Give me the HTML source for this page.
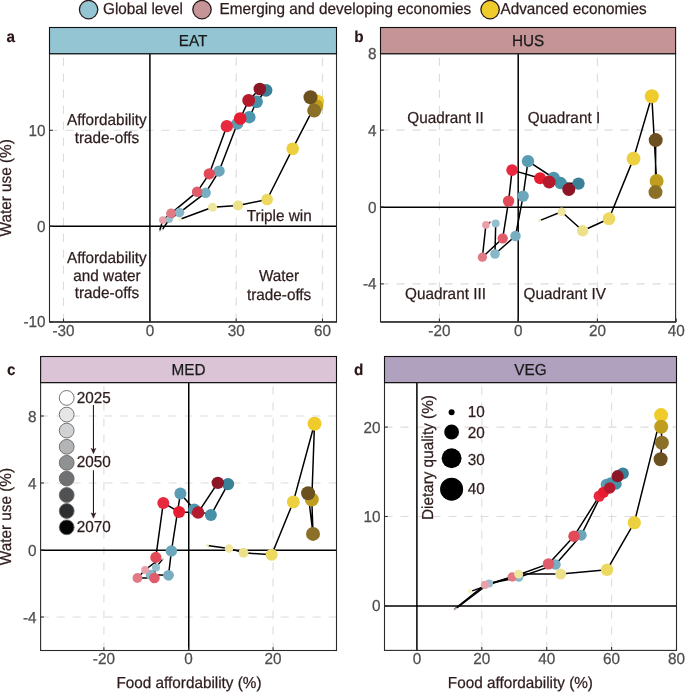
<!DOCTYPE html>
<html><head><meta charset="utf-8"><style>
html,body{margin:0;padding:0;background:#fff;}
svg{display:block;will-change:transform;}
text{font-family:"Liberation Sans", sans-serif;text-rendering:geometricPrecision;}
</style></head><body>
<svg width="685" height="692" viewBox="0 0 685 692" font-family='"Liberation Sans", sans-serif'>
<rect width="685" height="692" fill="#fff"/>
<clipPath id="clipa"><rect x="49.5" y="53.7" width="287.0" height="268.2"/></clipPath>
<line x1="63.5" y1="321.9" x2="63.5" y2="53.7" stroke="#dcdcdc" stroke-width="1.1" stroke-dasharray="8.1 7.9"/>
<line x1="236.2" y1="321.9" x2="236.2" y2="53.7" stroke="#dcdcdc" stroke-width="1.1" stroke-dasharray="8.1 7.9"/>
<line x1="322.5" y1="321.9" x2="322.5" y2="53.7" stroke="#dcdcdc" stroke-width="1.1" stroke-dasharray="8.1 7.9"/>
<line x1="49.5" y1="130.3" x2="336.5" y2="130.3" stroke="#dcdcdc" stroke-width="1.1" stroke-dasharray="8.1 7.9"/>
<line x1="149.9" y1="53.7" x2="149.9" y2="321.9" stroke="#000" stroke-width="1.5"/>
<line x1="49.5" y1="226.2" x2="336.5" y2="226.2" stroke="#000" stroke-width="1.5"/>
<clipPath id="clipb"><rect x="380.5" y="53.7" width="295.1" height="268.2"/></clipPath>
<line x1="439.4" y1="321.9" x2="439.4" y2="53.7" stroke="#dcdcdc" stroke-width="1.1" stroke-dasharray="8.1 7.9"/>
<line x1="597.4" y1="321.9" x2="597.4" y2="53.7" stroke="#dcdcdc" stroke-width="1.1" stroke-dasharray="8.1 7.9"/>
<line x1="380.5" y1="283.9" x2="675.6" y2="283.9" stroke="#dcdcdc" stroke-width="1.1" stroke-dasharray="8.1 7.9"/>
<line x1="380.5" y1="130.1" x2="675.6" y2="130.1" stroke="#dcdcdc" stroke-width="1.1" stroke-dasharray="8.1 7.9"/>
<line x1="518.2" y1="53.7" x2="518.2" y2="321.9" stroke="#000" stroke-width="1.5"/>
<line x1="380.5" y1="207.2" x2="675.6" y2="207.2" stroke="#000" stroke-width="1.5"/>
<clipPath id="clipc"><rect x="40.6" y="382.6" width="295.9" height="267.9"/></clipPath>
<line x1="103.9" y1="650.5" x2="103.9" y2="382.6" stroke="#dcdcdc" stroke-width="1.1" stroke-dasharray="8.1 7.9"/>
<line x1="273.1" y1="650.5" x2="273.1" y2="382.6" stroke="#dcdcdc" stroke-width="1.1" stroke-dasharray="8.1 7.9"/>
<line x1="40.6" y1="617.0" x2="336.5" y2="617.0" stroke="#dcdcdc" stroke-width="1.1" stroke-dasharray="8.1 7.9"/>
<line x1="40.6" y1="483.0" x2="336.5" y2="483.0" stroke="#dcdcdc" stroke-width="1.1" stroke-dasharray="8.1 7.9"/>
<line x1="40.6" y1="416.0" x2="336.5" y2="416.0" stroke="#dcdcdc" stroke-width="1.1" stroke-dasharray="8.1 7.9"/>
<line x1="188.75" y1="382.6" x2="188.75" y2="650.5" stroke="#000" stroke-width="1.5"/>
<line x1="40.6" y1="550.35" x2="336.5" y2="550.35" stroke="#000" stroke-width="1.5"/>
<clipPath id="clipd"><rect x="384.5" y="382.6" width="292.0" height="267.79999999999995"/></clipPath>
<line x1="481.8" y1="650.4" x2="481.8" y2="382.6" stroke="#dcdcdc" stroke-width="1.1" stroke-dasharray="8.1 7.9"/>
<line x1="546.7" y1="650.4" x2="546.7" y2="382.6" stroke="#dcdcdc" stroke-width="1.1" stroke-dasharray="8.1 7.9"/>
<line x1="611.6" y1="650.4" x2="611.6" y2="382.6" stroke="#dcdcdc" stroke-width="1.1" stroke-dasharray="8.1 7.9"/>
<line x1="384.5" y1="516.5" x2="676.5" y2="516.5" stroke="#dcdcdc" stroke-width="1.1" stroke-dasharray="8.1 7.9"/>
<line x1="384.5" y1="427.1" x2="676.5" y2="427.1" stroke="#dcdcdc" stroke-width="1.1" stroke-dasharray="8.1 7.9"/>
<line x1="416.9" y1="382.6" x2="416.9" y2="650.4" stroke="#000" stroke-width="1.5"/>
<line x1="384.5" y1="606.1" x2="676.5" y2="606.1" stroke="#000" stroke-width="1.5"/>
<g clip-path="url(#clipa)">
<path d="M162.3,229.5 L169.3,219.3 L179.5,212.6 L205.7,192.7 L219.1,171.1 L237.3,123.8 L249.3,117.2 L256.6,101.7 L266.0,90.3" fill="none" stroke="#000" stroke-width="1.5" stroke-linejoin="round"/>
<path d="M159.6,230.7 L162.8,220.1 L171.0,213.4 L197.1,191.8 L209.3,173.8 L226.8,126.2 L240.2,118.5 L248.7,100.4 L259.8,89.0" fill="none" stroke="#000" stroke-width="1.5" stroke-linejoin="round"/>
<path d="M180.1,219.3 L212.5,207.3 L238.0,205.5 L267.1,199.5 L292.7,148.7 L317.1,101.4 L316.3,106.3 L314.2,110.6 L310.5,97.2" fill="none" stroke="#000" stroke-width="1.5" stroke-linejoin="round"/>
<circle cx="162.3" cy="229.5" r="1.00" fill="#b9d6e1"/>
<circle cx="169.3" cy="219.3" r="3.60" fill="#93bfcf"/>
<circle cx="179.5" cy="212.6" r="4.80" fill="#86b8ca"/>
<circle cx="205.7" cy="192.7" r="5.20" fill="#78aec2"/>
<circle cx="219.1" cy="171.1" r="5.65" fill="#6ba6bb"/>
<circle cx="237.3" cy="123.8" r="6.00" fill="#5a9cb4"/>
<circle cx="249.3" cy="117.2" r="6.25" fill="#4e96ae"/>
<circle cx="256.6" cy="101.7" r="6.30" fill="#4690a8"/>
<circle cx="266.0" cy="90.3" r="6.40" fill="#3a8097"/>
<circle cx="159.6" cy="230.7" r="1.00" fill="#f0b4bc"/>
<circle cx="162.8" cy="220.1" r="3.80" fill="#e8a1aa"/>
<circle cx="171.0" cy="213.4" r="4.90" fill="#e27a86"/>
<circle cx="197.1" cy="191.8" r="5.25" fill="#e05c6a"/>
<circle cx="209.3" cy="173.8" r="5.65" fill="#e34a58"/>
<circle cx="226.8" cy="126.2" r="6.15" fill="#e8283e"/>
<circle cx="240.2" cy="118.5" r="6.35" fill="#e61c30"/>
<circle cx="248.7" cy="100.4" r="6.40" fill="#b51a2c"/>
<circle cx="259.8" cy="89.0" r="6.30" fill="#8c1526"/>
<circle cx="180.1" cy="219.3" r="1.75" fill="#f5eec0"/>
<circle cx="212.5" cy="207.3" r="4.55" fill="#f0e6a0"/>
<circle cx="238.0" cy="205.5" r="5.10" fill="#ede08a"/>
<circle cx="267.1" cy="199.5" r="5.85" fill="#edd860"/>
<circle cx="292.7" cy="148.7" r="6.30" fill="#ecd040"/>
<circle cx="317.1" cy="101.4" r="7.00" fill="#efcb2b"/>
<circle cx="316.3" cy="106.3" r="7.00" fill="#bf9e1f"/>
<circle cx="314.2" cy="110.6" r="7.00" fill="#8b7028"/>
<circle cx="310.5" cy="97.2" r="7.00" fill="#6b5020"/>
</g>
<g clip-path="url(#clipb)">
<path d="M497.0,221.5 L495.7,223.5 L495.0,254.0 L515.5,236.0 L523.1,196.1 L528.0,161.2 L553.6,178.0 L560.6,183.1 L578.5,183.6" fill="none" stroke="#000" stroke-width="1.5" stroke-linejoin="round"/>
<path d="M490.6,222.0 L485.9,224.9 L482.4,257.2 L502.7,238.3 L508.6,201.1 L512.1,170.1 L540.1,178.2 L549.2,182.0 L568.8,189.4" fill="none" stroke="#000" stroke-width="1.5" stroke-linejoin="round"/>
<path d="M539.6,220.6 L561.6,211.8 L582.7,230.8 L609.0,218.7 L633.5,158.6 L651.8,96.2 L656.6,181.0 L655.5,192.1 L655.7,140.1" fill="none" stroke="#000" stroke-width="1.5" stroke-linejoin="round"/>
<circle cx="497.0" cy="221.5" r="1.00" fill="#b9d6e1"/>
<circle cx="495.7" cy="223.5" r="3.95" fill="#93bfcf"/>
<circle cx="495.0" cy="254.0" r="4.80" fill="#86b8ca"/>
<circle cx="515.5" cy="236.0" r="5.25" fill="#78aec2"/>
<circle cx="523.1" cy="196.1" r="5.70" fill="#6ba6bb"/>
<circle cx="528.0" cy="161.2" r="6.15" fill="#5a9cb4"/>
<circle cx="553.6" cy="178.0" r="6.25" fill="#4e96ae"/>
<circle cx="560.6" cy="183.1" r="6.25" fill="#4690a8"/>
<circle cx="578.5" cy="183.6" r="6.20" fill="#3a8097"/>
<circle cx="490.6" cy="222.0" r="1.00" fill="#f0b4bc"/>
<circle cx="485.9" cy="224.9" r="3.80" fill="#e8a1aa"/>
<circle cx="482.4" cy="257.2" r="4.65" fill="#e27a86"/>
<circle cx="502.7" cy="238.3" r="5.15" fill="#e05c6a"/>
<circle cx="508.6" cy="201.1" r="5.70" fill="#e34a58"/>
<circle cx="512.1" cy="170.1" r="5.85" fill="#e8283e"/>
<circle cx="540.1" cy="178.2" r="6.00" fill="#e61c30"/>
<circle cx="549.2" cy="182.0" r="6.50" fill="#b51a2c"/>
<circle cx="568.8" cy="189.4" r="6.50" fill="#8c1526"/>
<circle cx="539.6" cy="220.6" r="1.50" fill="#f5eec0"/>
<circle cx="561.6" cy="211.8" r="4.25" fill="#f0e6a0"/>
<circle cx="582.7" cy="230.8" r="5.70" fill="#ede08a"/>
<circle cx="609.0" cy="218.7" r="6.35" fill="#edd860"/>
<circle cx="633.5" cy="158.6" r="6.95" fill="#ecd040"/>
<circle cx="651.8" cy="96.2" r="7.00" fill="#efcb2b"/>
<circle cx="656.6" cy="181.0" r="7.00" fill="#bf9e1f"/>
<circle cx="655.5" cy="192.1" r="7.00" fill="#8b7028"/>
<circle cx="655.7" cy="140.1" r="7.00" fill="#6b5020"/>
</g>
<g clip-path="url(#clipc)">
<path d="M162.9,558.9 L156.0,567.4 L150.7,574.7 L168.5,575.3 L171.4,551.0 L180.4,493.5 L194.3,509.6 L210.9,515.1 L228.0,484.1" fill="none" stroke="#000" stroke-width="1.5" stroke-linejoin="round"/>
<path d="M157.5,560.5 L145.1,569.9 L137.4,578.0 L154.4,578.0 L155.8,557.4 L163.3,502.9 L179.1,511.9 L198.1,512.6 L217.8,482.9" fill="none" stroke="#000" stroke-width="1.5" stroke-linejoin="round"/>
<path d="M207.4,545.4 L229.0,548.4 L243.5,552.8 L271.7,554.8 L293.3,501.9 L314.5,423.8 L311.8,499.5 L313.0,533.9 L308.1,493.3" fill="none" stroke="#000" stroke-width="1.5" stroke-linejoin="round"/>
<circle cx="162.9" cy="558.9" r="1.00" fill="#b9d6e1"/>
<circle cx="156.0" cy="567.4" r="4.00" fill="#93bfcf"/>
<circle cx="150.7" cy="574.7" r="5.00" fill="#86b8ca"/>
<circle cx="168.5" cy="575.3" r="5.40" fill="#78aec2"/>
<circle cx="171.4" cy="551.0" r="5.75" fill="#6ba6bb"/>
<circle cx="180.4" cy="493.5" r="6.00" fill="#5a9cb4"/>
<circle cx="194.3" cy="509.6" r="6.00" fill="#4e96ae"/>
<circle cx="210.9" cy="515.1" r="6.00" fill="#4690a8"/>
<circle cx="228.0" cy="484.1" r="6.20" fill="#3a8097"/>
<circle cx="157.5" cy="560.5" r="1.00" fill="#f0b4bc"/>
<circle cx="145.1" cy="569.9" r="3.95" fill="#e8a1aa"/>
<circle cx="137.4" cy="578.0" r="4.90" fill="#e27a86"/>
<circle cx="154.4" cy="578.0" r="5.35" fill="#e05c6a"/>
<circle cx="155.8" cy="557.4" r="5.60" fill="#e34a58"/>
<circle cx="163.3" cy="502.9" r="6.00" fill="#e8283e"/>
<circle cx="179.1" cy="511.9" r="6.00" fill="#e61c30"/>
<circle cx="198.1" cy="512.6" r="6.25" fill="#b51a2c"/>
<circle cx="217.8" cy="482.9" r="6.20" fill="#8c1526"/>
<circle cx="207.4" cy="545.4" r="1.50" fill="#f5eec0"/>
<circle cx="229.0" cy="548.4" r="4.25" fill="#f0e6a0"/>
<circle cx="243.5" cy="552.8" r="5.00" fill="#ede08a"/>
<circle cx="271.7" cy="554.8" r="6.00" fill="#edd860"/>
<circle cx="293.3" cy="501.9" r="6.50" fill="#ecd040"/>
<circle cx="314.5" cy="423.8" r="7.00" fill="#efcb2b"/>
<circle cx="311.8" cy="499.5" r="7.00" fill="#bf9e1f"/>
<circle cx="313.0" cy="533.9" r="7.00" fill="#8b7028"/>
<circle cx="308.1" cy="493.3" r="7.00" fill="#6b5020"/>
</g>
<g clip-path="url(#clipd)">
<path d="M456.1,608.4 L489.1,583.5 L518.8,577.3 L555.5,564.6 L581.2,535.2 L606.4,484.5 L610.7,483.0 L616.0,484.0 L622.9,473.5" fill="none" stroke="#000" stroke-width="1.5" stroke-linejoin="round"/>
<path d="M454.3,609.4 L484.9,584.9 L512.2,577.0 L548.5,563.9 L574.0,536.2 L599.2,496.2 L603.5,492.3 L609.7,488.0 L617.6,476.2" fill="none" stroke="#000" stroke-width="1.5" stroke-linejoin="round"/>
<path d="M470.1,591.6 L518.6,574.1 L560.7,574.1 L607.0,569.8 L634.3,522.7 L661.1,415.1 L661.2,426.8 L661.9,442.7 L660.6,459.3" fill="none" stroke="#000" stroke-width="1.5" stroke-linejoin="round"/>
<circle cx="456.1" cy="608.4" r="1.00" fill="#b9d6e1"/>
<circle cx="489.1" cy="583.5" r="4.00" fill="#93bfcf"/>
<circle cx="518.8" cy="577.3" r="4.50" fill="#86b8ca"/>
<circle cx="555.5" cy="564.6" r="5.25" fill="#78aec2"/>
<circle cx="581.2" cy="535.2" r="5.50" fill="#6ba6bb"/>
<circle cx="606.4" cy="484.5" r="5.75" fill="#5a9cb4"/>
<circle cx="610.7" cy="483.0" r="5.75" fill="#4e96ae"/>
<circle cx="616.0" cy="484.0" r="5.75" fill="#4690a8"/>
<circle cx="622.9" cy="473.5" r="6.00" fill="#3a8097"/>
<circle cx="454.3" cy="609.4" r="1.00" fill="#f0b4bc"/>
<circle cx="484.9" cy="584.9" r="4.10" fill="#e8a1aa"/>
<circle cx="512.2" cy="577.0" r="4.75" fill="#e27a86"/>
<circle cx="548.5" cy="563.9" r="5.70" fill="#e05c6a"/>
<circle cx="574.0" cy="536.2" r="5.75" fill="#e34a58"/>
<circle cx="599.2" cy="496.2" r="5.60" fill="#e8283e"/>
<circle cx="603.5" cy="492.3" r="5.60" fill="#e61c30"/>
<circle cx="609.7" cy="488.0" r="5.75" fill="#b51a2c"/>
<circle cx="617.6" cy="476.2" r="6.10" fill="#8c1526"/>
<circle cx="470.1" cy="591.6" r="2.35" fill="#f5eec0"/>
<circle cx="518.6" cy="574.1" r="4.45" fill="#f0e6a0"/>
<circle cx="560.7" cy="574.1" r="5.50" fill="#ede08a"/>
<circle cx="607.0" cy="569.8" r="6.20" fill="#edd860"/>
<circle cx="634.3" cy="522.7" r="6.65" fill="#ecd040"/>
<circle cx="661.1" cy="415.1" r="7.00" fill="#efcb2b"/>
<circle cx="661.2" cy="426.8" r="7.00" fill="#bf9e1f"/>
<circle cx="661.9" cy="442.7" r="7.00" fill="#8b7028"/>
<circle cx="660.6" cy="459.3" r="7.00" fill="#6b5020"/>
</g>
<line x1="63.5" y1="321.9" x2="63.5" y2="318.59999999999997" stroke="#333" stroke-width="1.1"/>
<text transform="translate(63.50,335.70) scale(0.9615,1)" text-anchor="middle" fill="#4d4d4d" stroke="#4d4d4d" stroke-width="0.25" font-size="15.91" font-weight="normal" >-30</text>
<line x1="149.9" y1="321.9" x2="149.9" y2="318.59999999999997" stroke="#333" stroke-width="1.1"/>
<text transform="translate(149.90,335.70) scale(0.9615,1)" text-anchor="middle" fill="#4d4d4d" stroke="#4d4d4d" stroke-width="0.25" font-size="15.91" font-weight="normal" >0</text>
<line x1="236.2" y1="321.9" x2="236.2" y2="318.59999999999997" stroke="#333" stroke-width="1.1"/>
<text transform="translate(236.20,335.70) scale(0.9615,1)" text-anchor="middle" fill="#4d4d4d" stroke="#4d4d4d" stroke-width="0.25" font-size="15.91" font-weight="normal" >30</text>
<line x1="322.5" y1="321.9" x2="322.5" y2="318.59999999999997" stroke="#333" stroke-width="1.1"/>
<text transform="translate(322.50,335.70) scale(0.9615,1)" text-anchor="middle" fill="#4d4d4d" stroke="#4d4d4d" stroke-width="0.25" font-size="15.91" font-weight="normal" >60</text>
<line x1="49.5" y1="321.9" x2="52.8" y2="321.9" stroke="#333" stroke-width="1.1"/>
<text transform="translate(45.50,327.40) scale(0.9615,1)" text-anchor="end" fill="#4d4d4d" stroke="#4d4d4d" stroke-width="0.25" font-size="15.91" font-weight="normal" >-10</text>
<line x1="49.5" y1="226.2" x2="52.8" y2="226.2" stroke="#333" stroke-width="1.1"/>
<text transform="translate(45.50,231.70) scale(0.9615,1)" text-anchor="end" fill="#4d4d4d" stroke="#4d4d4d" stroke-width="0.25" font-size="15.91" font-weight="normal" >0</text>
<line x1="49.5" y1="130.3" x2="52.8" y2="130.3" stroke="#333" stroke-width="1.1"/>
<text transform="translate(45.50,135.80) scale(0.9615,1)" text-anchor="end" fill="#4d4d4d" stroke="#4d4d4d" stroke-width="0.25" font-size="15.91" font-weight="normal" >10</text>
<rect x="49.5" y="53.7" width="287.0" height="268.2" fill="none" stroke="#2a2a2a" stroke-width="1.1"/>
<line x1="49.5" y1="321.9" x2="337.0" y2="321.9" stroke="#333" stroke-width="1.5"/>
<rect x="49.5" y="27.5" width="287.0" height="26.200000000000003" fill="#93c5d3" stroke="#111" stroke-width="1.1"/>
<text transform="translate(193.00,46.00) scale(0.9615,1)" text-anchor="middle" fill="#1a1a1a" stroke="#1a1a1a" stroke-width="0.25" font-size="15.91" font-weight="normal" >EAT</text>
<text transform="translate(11.3,187.80) rotate(-90) scale(0.9615,1)" text-anchor="middle" fill="#2e1c1c" stroke="#2e1c1c" stroke-width="0.25" font-size="15.91">Water use (%)</text>
<line x1="439.4" y1="321.9" x2="439.4" y2="318.59999999999997" stroke="#333" stroke-width="1.1"/>
<text transform="translate(439.40,335.70) scale(0.9615,1)" text-anchor="middle" fill="#4d4d4d" stroke="#4d4d4d" stroke-width="0.25" font-size="15.91" font-weight="normal" >-20</text>
<line x1="518.2" y1="321.9" x2="518.2" y2="318.59999999999997" stroke="#333" stroke-width="1.1"/>
<text transform="translate(518.20,335.70) scale(0.9615,1)" text-anchor="middle" fill="#4d4d4d" stroke="#4d4d4d" stroke-width="0.25" font-size="15.91" font-weight="normal" >0</text>
<line x1="597.4" y1="321.9" x2="597.4" y2="318.59999999999997" stroke="#333" stroke-width="1.1"/>
<text transform="translate(597.40,335.70) scale(0.9615,1)" text-anchor="middle" fill="#4d4d4d" stroke="#4d4d4d" stroke-width="0.25" font-size="15.91" font-weight="normal" >20</text>
<line x1="676.2" y1="321.9" x2="676.2" y2="318.59999999999997" stroke="#333" stroke-width="1.1"/>
<text transform="translate(676.20,335.70) scale(0.9615,1)" text-anchor="middle" fill="#4d4d4d" stroke="#4d4d4d" stroke-width="0.25" font-size="15.91" font-weight="normal" >40</text>
<line x1="380.5" y1="283.9" x2="383.8" y2="283.9" stroke="#333" stroke-width="1.1"/>
<text transform="translate(376.50,289.40) scale(0.9615,1)" text-anchor="end" fill="#4d4d4d" stroke="#4d4d4d" stroke-width="0.25" font-size="15.91" font-weight="normal" >-4</text>
<line x1="380.5" y1="207.0" x2="383.8" y2="207.0" stroke="#333" stroke-width="1.1"/>
<text transform="translate(376.50,212.50) scale(0.9615,1)" text-anchor="end" fill="#4d4d4d" stroke="#4d4d4d" stroke-width="0.25" font-size="15.91" font-weight="normal" >0</text>
<line x1="380.5" y1="130.1" x2="383.8" y2="130.1" stroke="#333" stroke-width="1.1"/>
<text transform="translate(376.50,135.60) scale(0.9615,1)" text-anchor="end" fill="#4d4d4d" stroke="#4d4d4d" stroke-width="0.25" font-size="15.91" font-weight="normal" >4</text>
<line x1="380.5" y1="53.2" x2="383.8" y2="53.2" stroke="#333" stroke-width="1.1"/>
<text transform="translate(376.50,58.70) scale(0.9615,1)" text-anchor="end" fill="#4d4d4d" stroke="#4d4d4d" stroke-width="0.25" font-size="15.91" font-weight="normal" >8</text>
<rect x="380.5" y="53.7" width="295.1" height="268.2" fill="none" stroke="#2a2a2a" stroke-width="1.1"/>
<line x1="380.5" y1="321.9" x2="676.1" y2="321.9" stroke="#333" stroke-width="1.5"/>
<rect x="380.5" y="27.5" width="295.1" height="26.200000000000003" fill="#c59497" stroke="#111" stroke-width="1.1"/>
<text transform="translate(528.05,46.00) scale(0.9615,1)" text-anchor="middle" fill="#1a1a1a" stroke="#1a1a1a" stroke-width="0.25" font-size="15.91" font-weight="normal" >HUS</text>
<line x1="103.9" y1="650.5" x2="103.9" y2="647.2" stroke="#333" stroke-width="1.1"/>
<text transform="translate(103.90,664.30) scale(0.9615,1)" text-anchor="middle" fill="#4d4d4d" stroke="#4d4d4d" stroke-width="0.25" font-size="15.91" font-weight="normal" >-20</text>
<line x1="188.5" y1="650.5" x2="188.5" y2="647.2" stroke="#333" stroke-width="1.1"/>
<text transform="translate(188.50,664.30) scale(0.9615,1)" text-anchor="middle" fill="#4d4d4d" stroke="#4d4d4d" stroke-width="0.25" font-size="15.91" font-weight="normal" >0</text>
<line x1="273.1" y1="650.5" x2="273.1" y2="647.2" stroke="#333" stroke-width="1.1"/>
<text transform="translate(273.10,664.30) scale(0.9615,1)" text-anchor="middle" fill="#4d4d4d" stroke="#4d4d4d" stroke-width="0.25" font-size="15.91" font-weight="normal" >20</text>
<line x1="40.6" y1="617.0" x2="43.9" y2="617.0" stroke="#333" stroke-width="1.1"/>
<text transform="translate(36.60,622.50) scale(0.9615,1)" text-anchor="end" fill="#4d4d4d" stroke="#4d4d4d" stroke-width="0.25" font-size="15.91" font-weight="normal" >-4</text>
<line x1="40.6" y1="550.0" x2="43.9" y2="550.0" stroke="#333" stroke-width="1.1"/>
<text transform="translate(36.60,555.50) scale(0.9615,1)" text-anchor="end" fill="#4d4d4d" stroke="#4d4d4d" stroke-width="0.25" font-size="15.91" font-weight="normal" >0</text>
<line x1="40.6" y1="483.0" x2="43.9" y2="483.0" stroke="#333" stroke-width="1.1"/>
<text transform="translate(36.60,488.50) scale(0.9615,1)" text-anchor="end" fill="#4d4d4d" stroke="#4d4d4d" stroke-width="0.25" font-size="15.91" font-weight="normal" >4</text>
<line x1="40.6" y1="416.0" x2="43.9" y2="416.0" stroke="#333" stroke-width="1.1"/>
<text transform="translate(36.60,421.50) scale(0.9615,1)" text-anchor="end" fill="#4d4d4d" stroke="#4d4d4d" stroke-width="0.25" font-size="15.91" font-weight="normal" >8</text>
<rect x="40.6" y="382.6" width="295.9" height="267.9" fill="none" stroke="#2a2a2a" stroke-width="1.1"/>
<rect x="40.6" y="356.5" width="295.9" height="26.100000000000023" fill="#dac4d6" stroke="#111" stroke-width="1.1"/>
<text transform="translate(188.55,374.95) scale(0.9615,1)" text-anchor="middle" fill="#1a1a1a" stroke="#1a1a1a" stroke-width="0.25" font-size="15.91" font-weight="normal" >MED</text>
<text transform="translate(189.00,687.60) scale(0.9615,1)" text-anchor="middle" fill="#2e1c1c" stroke="#2e1c1c" stroke-width="0.25" font-size="15.91" font-weight="normal" >Food affordability (%)</text>
<text transform="translate(11.3,516.55) rotate(-90) scale(0.9615,1)" text-anchor="middle" fill="#2e1c1c" stroke="#2e1c1c" stroke-width="0.25" font-size="15.91">Water use (%)</text>
<line x1="416.9" y1="650.4" x2="416.9" y2="647.1" stroke="#333" stroke-width="1.1"/>
<text transform="translate(416.90,664.20) scale(0.9615,1)" text-anchor="middle" fill="#4d4d4d" stroke="#4d4d4d" stroke-width="0.25" font-size="15.91" font-weight="normal" >0</text>
<line x1="481.8" y1="650.4" x2="481.8" y2="647.1" stroke="#333" stroke-width="1.1"/>
<text transform="translate(481.80,664.20) scale(0.9615,1)" text-anchor="middle" fill="#4d4d4d" stroke="#4d4d4d" stroke-width="0.25" font-size="15.91" font-weight="normal" >20</text>
<line x1="546.7" y1="650.4" x2="546.7" y2="647.1" stroke="#333" stroke-width="1.1"/>
<text transform="translate(546.70,664.20) scale(0.9615,1)" text-anchor="middle" fill="#4d4d4d" stroke="#4d4d4d" stroke-width="0.25" font-size="15.91" font-weight="normal" >40</text>
<line x1="611.6" y1="650.4" x2="611.6" y2="647.1" stroke="#333" stroke-width="1.1"/>
<text transform="translate(611.60,664.20) scale(0.9615,1)" text-anchor="middle" fill="#4d4d4d" stroke="#4d4d4d" stroke-width="0.25" font-size="15.91" font-weight="normal" >60</text>
<line x1="676.5" y1="650.4" x2="676.5" y2="647.1" stroke="#333" stroke-width="1.1"/>
<text transform="translate(676.50,664.20) scale(0.9615,1)" text-anchor="middle" fill="#4d4d4d" stroke="#4d4d4d" stroke-width="0.25" font-size="15.91" font-weight="normal" >80</text>
<line x1="384.5" y1="605.8" x2="387.8" y2="605.8" stroke="#333" stroke-width="1.1"/>
<text transform="translate(380.50,611.30) scale(0.9615,1)" text-anchor="end" fill="#4d4d4d" stroke="#4d4d4d" stroke-width="0.25" font-size="15.91" font-weight="normal" >0</text>
<line x1="384.5" y1="516.5" x2="387.8" y2="516.5" stroke="#333" stroke-width="1.1"/>
<text transform="translate(380.50,522.00) scale(0.9615,1)" text-anchor="end" fill="#4d4d4d" stroke="#4d4d4d" stroke-width="0.25" font-size="15.91" font-weight="normal" >10</text>
<line x1="384.5" y1="427.1" x2="387.8" y2="427.1" stroke="#333" stroke-width="1.1"/>
<text transform="translate(380.50,432.60) scale(0.9615,1)" text-anchor="end" fill="#4d4d4d" stroke="#4d4d4d" stroke-width="0.25" font-size="15.91" font-weight="normal" >20</text>
<rect x="384.5" y="382.6" width="292.0" height="267.79999999999995" fill="none" stroke="#2a2a2a" stroke-width="1.1"/>
<rect x="384.5" y="356.5" width="292.0" height="26.100000000000023" fill="#b0a1be" stroke="#111" stroke-width="1.1"/>
<text transform="translate(530.50,374.95) scale(0.9615,1)" text-anchor="middle" fill="#1a1a1a" stroke="#1a1a1a" stroke-width="0.25" font-size="15.91" font-weight="normal" >VEG</text>
<text transform="translate(520.40,687.60) scale(0.9615,1)" text-anchor="middle" fill="#2e1c1c" stroke="#2e1c1c" stroke-width="0.25" font-size="15.91" font-weight="normal" >Food affordability (%)</text>
<text transform="translate(6.60,41.90) scale(0.9615,1)" text-anchor="start" fill="#2a1616" stroke="#2a1616" stroke-width="0.15" font-size="15.91" font-weight="bold" >a</text>
<text transform="translate(354.30,41.80) scale(0.9615,1)" text-anchor="start" fill="#2a1616" stroke="#2a1616" stroke-width="0.15" font-size="15.91" font-weight="bold" >b</text>
<text transform="translate(7.00,374.90) scale(0.9615,1)" text-anchor="start" fill="#2a1616" stroke="#2a1616" stroke-width="0.15" font-size="15.91" font-weight="bold" >c</text>
<text transform="translate(354.00,374.90) scale(0.9615,1)" text-anchor="start" fill="#2a1616" stroke="#2a1616" stroke-width="0.15" font-size="15.91" font-weight="bold" >d</text>
<text transform="translate(106.90,124.80) scale(0.9615,1)" text-anchor="middle" fill="#2e1c1c" stroke="#2e1c1c" stroke-width="0.25" font-size="15.91" font-weight="normal" >Affordability</text>
<text transform="translate(106.90,143.40) scale(0.9615,1)" text-anchor="middle" fill="#2e1c1c" stroke="#2e1c1c" stroke-width="0.25" font-size="15.91" font-weight="normal" >trade-offs</text>
<text transform="translate(106.90,262.70) scale(0.9615,1)" text-anchor="middle" fill="#2e1c1c" stroke="#2e1c1c" stroke-width="0.25" font-size="15.91" font-weight="normal" >Affordability</text>
<text transform="translate(106.90,280.50) scale(0.9615,1)" text-anchor="middle" fill="#2e1c1c" stroke="#2e1c1c" stroke-width="0.25" font-size="15.91" font-weight="normal" >and water</text>
<text transform="translate(106.90,298.30) scale(0.9615,1)" text-anchor="middle" fill="#2e1c1c" stroke="#2e1c1c" stroke-width="0.25" font-size="15.91" font-weight="normal" >trade-offs</text>
<text transform="translate(279.10,280.80) scale(0.9615,1)" text-anchor="middle" fill="#2e1c1c" stroke="#2e1c1c" stroke-width="0.25" font-size="15.91" font-weight="normal" >Water</text>
<text transform="translate(279.10,299.80) scale(0.9615,1)" text-anchor="middle" fill="#2e1c1c" stroke="#2e1c1c" stroke-width="0.25" font-size="15.91" font-weight="normal" >trade-offs</text>
<text transform="translate(279.20,220.80) scale(0.9615,1)" text-anchor="middle" fill="#2e1c1c" stroke="#2e1c1c" stroke-width="0.25" font-size="15.91" font-weight="normal" >Triple win</text>
<text transform="translate(445.50,122.50) scale(0.9615,1)" text-anchor="middle" fill="#2e1c1c" stroke="#2e1c1c" stroke-width="0.25" font-size="15.91" font-weight="normal" >Quadrant II</text>
<text transform="translate(564.00,122.50) scale(0.9615,1)" text-anchor="middle" fill="#2e1c1c" stroke="#2e1c1c" stroke-width="0.25" font-size="15.91" font-weight="normal" >Quadrant I</text>
<text transform="translate(445.50,298.80) scale(0.9615,1)" text-anchor="middle" fill="#2e1c1c" stroke="#2e1c1c" stroke-width="0.25" font-size="15.91" font-weight="normal" >Quadrant III</text>
<text transform="translate(564.80,299.00) scale(0.9615,1)" text-anchor="middle" fill="#2e1c1c" stroke="#2e1c1c" stroke-width="0.25" font-size="15.91" font-weight="normal" >Quadrant IV</text>
<circle cx="88.6" cy="9.6" r="9.2" fill="#93c5d3" stroke="#2a1a1a" stroke-width="1.3"/>
<circle cx="202.0" cy="9.6" r="9.2" fill="#c59497" stroke="#2a1a1a" stroke-width="1.3"/>
<circle cx="490.1" cy="9.6" r="9.2" fill="#efcb2b" stroke="#2a1a1a" stroke-width="1.3"/>
<text transform="translate(103.00,14.30) scale(0.9615,1)" text-anchor="start" fill="#2e1c1c" stroke="#2e1c1c" stroke-width="0.25" font-size="15.91" font-weight="normal" >Global level</text>
<text transform="translate(219.60,14.30) scale(0.9615,1)" text-anchor="start" fill="#2e1c1c" stroke="#2e1c1c" stroke-width="0.25" font-size="15.91" font-weight="normal" >Emerging and developing economies</text>
<text transform="translate(500.50,14.30) scale(0.9615,1)" text-anchor="start" fill="#2e1c1c" stroke="#2e1c1c" stroke-width="0.25" font-size="15.91" font-weight="normal" >Advanced economies</text>
<circle cx="66.7" cy="397.9" r="7.4" fill="#ffffff" stroke="#666" stroke-width="0.9"/>
<circle cx="66.7" cy="414.6" r="7.4" fill="#e6e6e6" stroke="#666" stroke-width="0.9"/>
<circle cx="66.7" cy="430.6" r="7.4" fill="#d0d2d3" stroke="#666" stroke-width="0.9"/>
<circle cx="66.7" cy="446.8" r="7.4" fill="#b3b4b5" stroke="#666" stroke-width="0.9"/>
<circle cx="66.7" cy="462.8" r="7.4" fill="#909192" stroke="#666" stroke-width="0.9"/>
<circle cx="66.7" cy="478.6" r="7.4" fill="#707172" stroke="#666" stroke-width="0.9"/>
<circle cx="66.7" cy="495.0" r="7.4" fill="#505152" stroke="#666" stroke-width="0.9"/>
<circle cx="66.7" cy="511.0" r="7.4" fill="#2c2e30" stroke="#666" stroke-width="0.9"/>
<circle cx="66.7" cy="527.3" r="7.4" fill="#050505" stroke="#666" stroke-width="0.9"/>
<text transform="translate(76.80,403.20) scale(0.9615,1)" text-anchor="start" fill="#2e1c1c" stroke="#2e1c1c" stroke-width="0.25" font-size="15.91" font-weight="normal" >2025</text>
<text transform="translate(76.80,467.10) scale(0.9615,1)" text-anchor="start" fill="#2e1c1c" stroke="#2e1c1c" stroke-width="0.25" font-size="15.91" font-weight="normal" >2050</text>
<text transform="translate(76.80,531.50) scale(0.9615,1)" text-anchor="start" fill="#2e1c1c" stroke="#2e1c1c" stroke-width="0.25" font-size="15.91" font-weight="normal" >2070</text>
<line x1="93.45" y1="405.0" x2="93.45" y2="450.7" stroke="#2e1c1c" stroke-width="1.1"/>
<path d="M91.0,448.3 L93.45,453.7 L95.9,448.3 L93.45,449.5 Z" fill="#2e1c1c" stroke="#2e1c1c" stroke-width="0.4" stroke-linejoin="round"/>
<line x1="93.45" y1="470.2" x2="93.45" y2="515.2" stroke="#2e1c1c" stroke-width="1.1"/>
<path d="M91.0,512.8000000000001 L93.45,518.2 L95.9,512.8000000000001 L93.45,514.0 Z" fill="#2e1c1c" stroke="#2e1c1c" stroke-width="0.4" stroke-linejoin="round"/>
<circle cx="451.6" cy="412.3" r="3.0" fill="#000"/>
<text transform="translate(467.70,417.20) scale(0.9615,1)" text-anchor="start" fill="#2e1c1c" stroke="#2e1c1c" stroke-width="0.25" font-size="15.91" font-weight="normal" >10</text>
<circle cx="451.6" cy="432.0" r="7.4" fill="#000"/>
<text transform="translate(467.70,438.40) scale(0.9615,1)" text-anchor="start" fill="#2e1c1c" stroke="#2e1c1c" stroke-width="0.25" font-size="15.91" font-weight="normal" >20</text>
<circle cx="451.6" cy="458.3" r="9.95" fill="#000"/>
<text transform="translate(467.70,464.70) scale(0.9615,1)" text-anchor="start" fill="#2e1c1c" stroke="#2e1c1c" stroke-width="0.25" font-size="15.91" font-weight="normal" >30</text>
<circle cx="451.6" cy="489.2" r="11.5" fill="#000"/>
<text transform="translate(467.70,494.00) scale(0.9615,1)" text-anchor="start" fill="#2e1c1c" stroke="#2e1c1c" stroke-width="0.25" font-size="15.91" font-weight="normal" >40</text>
<text transform="translate(433.4,457.6) rotate(-90) scale(0.9615,1)" text-anchor="middle" fill="#2e1c1c" stroke="#2e1c1c" stroke-width="0.25" font-size="15.91">Dietary quality (%)</text>
</svg>
</body></html>
